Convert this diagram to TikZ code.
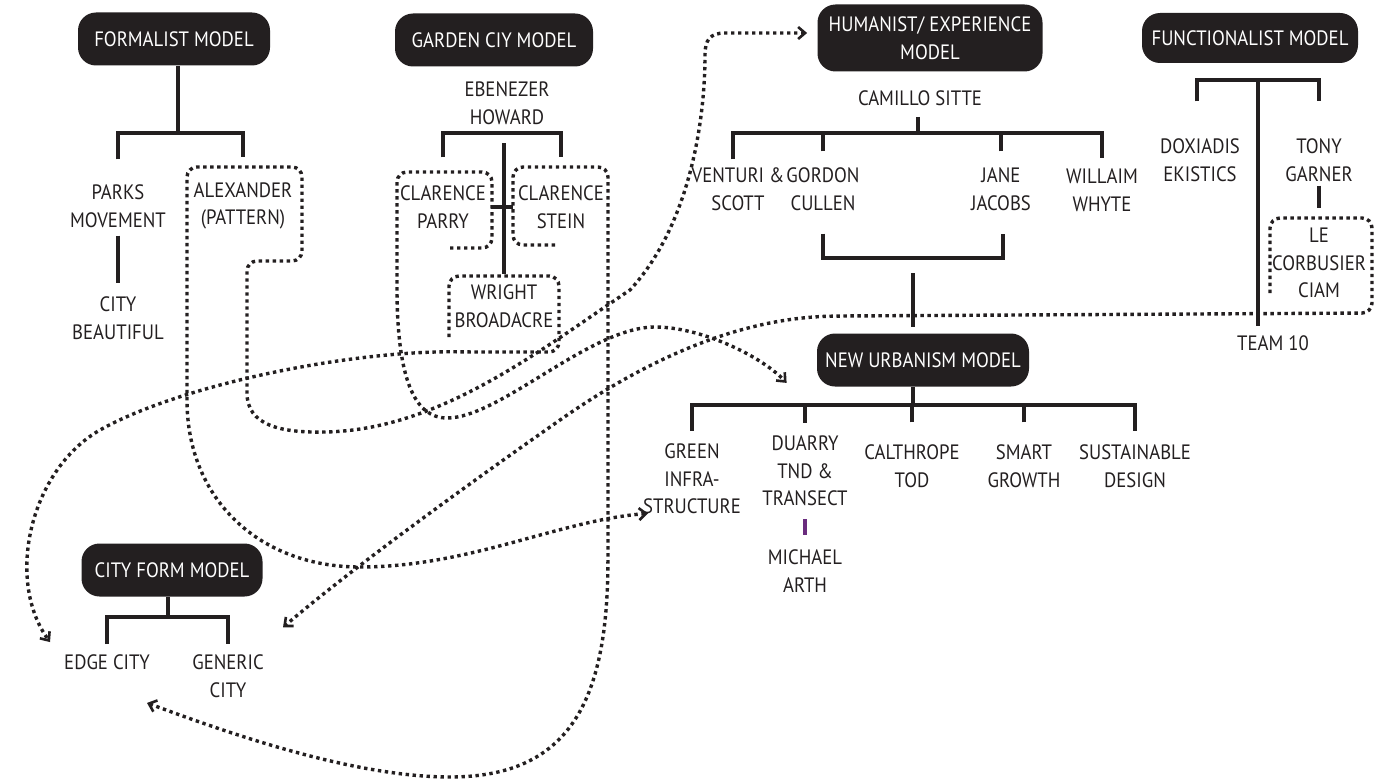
\documentclass[tikz,border=0pt]{standalone}
\usepackage{fontspec}
\setmainfont{PT Sans}[FakeStretch=0.9]
\usepackage{tikz}
\usetikzlibrary{arrows.meta,calc}
\definecolor{ModelBlack}{HTML}{231F20}
\definecolor{InkGray}{HTML}{231F20}
\definecolor{ArthPurple}{HTML}{6A2C7E}

\begin{document}
\begin{tikzpicture}[
  x=0.5pt, y=-0.5pt,
  >={Straight Barb[length=3.5pt,width=6pt,line width=1.3pt]},
  every node/.style={font=\fontsize{10.4pt}{13.75pt}\selectfont,align=center},
  model/.style={fill=ModelBlack,text=white,rounded corners=9pt,minimum height=26.5pt,inner sep=2pt},
  person/.style={text=InkGray,inner sep=1pt},
  tree/.style={draw=ModelBlack,line width=2pt},
  dotpath/.style={draw=ModelBlack,line width=1.7pt,dash pattern=on 1.7pt off 1.8pt},
  link/.style={dotpath,->}
]
  \useasboundingbox (0,0) rectangle (1380,781);

  % model boxes
  \node[model,minimum width=96pt] (formal) at (174,39) {FORMALIST MODEL};
  \node[model,minimum width=99pt] (garden) at (494,40) {GARDEN CIY MODEL};
  \node[model,minimum width=112.5pt,minimum height=33.5pt] (human) at (930,38) {HUMANIST/ EXPERIENCE\\MODEL};
  \node[model,minimum width=108pt,minimum height=25pt] (func) at (1250,38) {FUNCTIONALIST MODEL};
  \node[model,minimum width=106pt] (nu) at (923,360) {NEW URBANISM MODEL};
  \node[model,minimum width=90.5pt] (cityform) at (172,570) {CITY FORM MODEL};

  % formalist
  \node[person] (parks) at (118,206) {PARKS\\MOVEMENT};
  \node[person] (alex) at (243,206) {ALEXANDER\\(PATTERN)};
  \node[person] (beaut) at (118,318) {CITY\\BEAUTIFUL};
  % garden city
  \node[person] (howard) at (507,103) {EBENEZER\\HOWARD};
  \node[person] (parry) at (443,207) {CLARENCE\\PARRY};
  \node[person] (stein) at (561,207) {CLARENCE\\STEIN};
  \node[person] (wright) at (504,306) {WRIGHT\\BROADACRE};
  % humanist
  \node[person] (sitte) at (920,98) {CAMILLO SITTE};
  \node[person] (venturi) at (738,189) {VENTURI \&\\SCOTT};
  \node[person] (cullen) at (823,189) {GORDON\\CULLEN};
  \node[person] (jacobs) at (1001,189) {JANE\\JACOBS};
  \node[person] (whyte) at (1102,190) {WILLAIM\\WHYTE};
  % functionalist
  \node[person] (doxi) at (1200,160) {DOXIADIS\\EKISTICS};
  \node[person] (garner) at (1319,160) {TONY\\GARNER};
  \node[person] (lecorb) at (1319,263) {LE\\CORBUSIER\\CIAM};
  \node[person] (team) at (1273,343) {TEAM 10};
  % new urbanism
  \node[person] (green) at (692,479) {GREEN\\INFRA-\\STRUCTURE};
  \node[person] (duarry) at (805,471) {DUARRY\\TND \&\\TRANSECT};
  \node[person] (arth) at (805,571) {MICHAEL\\ARTH};
  \node[person] (calth) at (912,466) {CALTHROPE\\TOD};
  \node[person] (smart) at (1024,466) {SMART\\GROWTH};
  \node[person] (sustain) at (1135,466) {SUSTAINABLE\\DESIGN};
  % city form
  \node[person] (edge) at (107,662) {EDGE CITY};
  \node[person] (generic) at (228,676) {GENERIC\\CITY};

  % tree lines
  \coordinate (fbar) at (178,133);
  \draw[tree] (formal.south -| fbar) -- (fbar);
  \draw[tree] ($(parks.north)+(0,-23)$) |- (fbar) -| ($(alex.north)+(0,-23)$);
  \draw[tree] ($(parks.south)+(0,6)$) -- ($(beaut.north)+(0,-11)$);

  \coordinate (gbar) at (504,133);
  \draw[tree] ($(parry.north)+(0,-26)$) |- (gbar) -| ($(stein.north)+(0,-26)$);
  \draw[tree] ($(gbar)+(0,10)$) -- ($(wright.north)+(0,-8)$);
  \draw[tree] ($(parry.east)+(3,0)$) -- ($(stein.west)+(-3,0)$);

  \coordinate (hbar) at (918,133);
  \draw[tree] ($(sitte.south)+(-2,9)$) -- (hbar);
  \draw[tree] ($(venturi.north)+(-5,-6)$) |- (hbar) -| ($(whyte.north)+(0,-8)$);
  \draw[tree] ($(cullen.north)+(0,-14)$) -- (cullen.north |- hbar);
  \draw[tree] ($(jacobs.north)+(0,-14)$) -- (jacobs.north |- hbar);
  \coordinate (hbrack) at (913,258);
  \draw[tree] ($(cullen.south)+(0,21)$) |- (hbrack) -| ($(jacobs.south)+(2,21)$);
  \draw[tree] ($(hbrack)+(0,15)$) -- ($(hbrack |- nu.north)+(0,-6)$);

  \coordinate (fnbar) at (1258,80);
  \draw[tree] ($(doxi.north)+(-3,-35)$) |- (fnbar) -| ($(garner.north)+(0,-35)$);
  \draw[tree] (fnbar) -- ($(fnbar |- team.north)+(0,-7)$);
  \draw[tree] ($(garner.south)+(0,2)$) -- ($(lecorb.north)+(0,-18)$);

  \coordinate (nubar) at (913,405);
  \draw[tree] (nu.south -| nubar) -- (nubar);
  \draw[tree] ($(green.north)+(0,-11)$) |- (nubar) -| ($(sustain.north)+(0,-11)$);
  \draw[tree] ($(duarry.north)+(0,-11)$) -- (duarry.north |- nubar);
  \draw[tree] ($(calth.north)+(0,-20)$) -- (calth.north |- nubar);
  \draw[tree] ($(smart.north)+(0,-20)$) -- (smart.north |- nubar);
  \draw[draw=ArthPurple,line width=2pt] ($(duarry.south)+(0,11)$) -- ($(arth.north)+(0,-12)$);

  \coordinate (cfbar) at (168,617);
  \draw[tree] (cityform.south -| cfbar) -- (cfbar);
  \draw[tree] ($(edge.north)+(0,-8)$) |- (cfbar) -| ($(generic.north)+(0,-8)$);

  % dotted frames and influence links
  \draw[dotpath,<->] ($(green.south)+(-44,-3)$)
    .. controls (560,520) and (470,567) .. (360,567)
    .. controls (260,567) and (187,500) .. (187,400)
    [rounded corners=5pt] -- (187,167) -- (302,167) -- (302,261) -- (247,261) -- (247,383) [sharp corners]
    .. controls (247,425) and (280,433) .. (325,432)
    .. controls (440,430) and (540,350) .. (630,290)
    .. controls (690,225) and (705,120) .. (705,55)
    .. controls (705,40) and (710,33) .. (725,33)
    -- ($(human.west)+(-10,-5)$);
  \draw[link] (450,248) [rounded corners=5pt] -- (492,248) -- (492,172) -- (397,172) -- (397,300) [sharp corners]
    .. controls (400,380) and (415,418) .. (447,418)
    .. controls (500,418) and (590,327) .. (655,327)
    .. controls (700,327) and (760,355) .. ($(nu.south west)+(-30,-4)$);
  \draw[link] (555,245) [rounded corners=5pt] -- (513,245) -- (513,167) -- (608,167) -- (608,560) [sharp corners]
    .. controls (606,700) and (570,777) .. (450,777)
    .. controls (350,777) and (220,730) .. ($(edge.south)+(40,31)$);
  \draw[link] (449,337) [rounded corners=5pt] -- (449,276) -- (559,276) -- (559,352) -- (470,352) [sharp corners]
    .. controls (350,350) and (180,385) .. (100,430)
    .. controls (30,470) and (5,580) .. ($(edge.north)+(-57,-10)$);
  \draw[link] (1270,293) [rounded corners=5pt] -- (1270,218) -- (1372,218) -- (1372,313) -- (840,316) [sharp corners]
    .. controls (750,318) and (660,350) .. (560,420)
    .. controls (460,490) and (350,570) .. ($(generic.north)+(55,-25)$);
\end{tikzpicture}
\end{document}
